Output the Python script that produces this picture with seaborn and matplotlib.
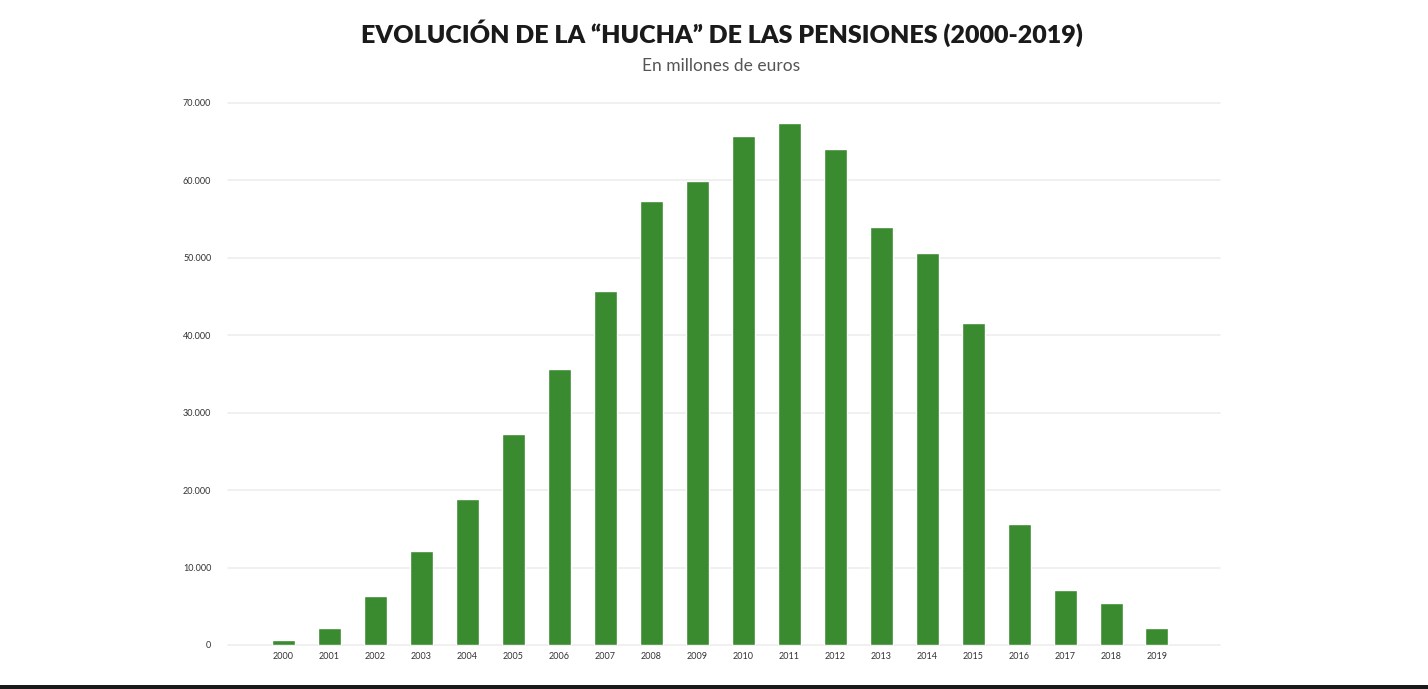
import matplotlib
matplotlib.use("Agg")
import matplotlib.pyplot as plt
import seaborn as sns
import pandas as pd
from matplotlib.patches import Rectangle

years = [str(y) for y in range(2000, 2020)]
values = [650, 2200, 6300, 12150, 18900, 27300, 35650, 45750, 57350, 59950,
          65800, 67450, 64100, 54000, 50650, 41550, 15600, 7100, 5450, 2200]
yticks = [0, 10000, 20000, 30000, 40000, 50000, 60000, 70000]
ytick_labels = ["0", "10.000", "20.000", "30.000", "40.000", "50.000", "60.000", "70.000"]

title = "EVOLUCIÓN DE LA “HUCHA” DE LAS PENSIONES (2000-2019)"
subtitle = "En millones de euros"

sns.set_theme(style="white")
plt.rcParams['font.family'] = ['Lato', 'DejaVu Sans']

df = pd.DataFrame({"year": years, "value": values})

fig = plt.figure(figsize=(14.28, 6.89), dpi=100)
ax = fig.add_axes([228/1428, 1-645/689, (1220-228)/1428, (645-103)/689])

sns.barplot(data=df, x="year", y="value", color="#3a8a2f", saturation=1,
            width=0.5, ax=ax, zorder=3)

ax.set_ylim(0, 70000)
ax.set_xlim(-1.2, 20.37)
ax.set_yticks(yticks)
ax.set_yticklabels(ytick_labels)
ax.yaxis.grid(True, color="#ededed", linewidth=1.2, zorder=0)
ax.set_axisbelow(True)
for gl in ax.get_ygridlines():
    gl.set_clip_on(False)
for s in ax.spines.values():
    s.set_visible(False)
ax.set_xlabel("")
ax.set_ylabel("")
ax.tick_params(axis="y", length=0, pad=12, labelsize=6.5, labelcolor="#333333")
ax.tick_params(axis="x", length=0, pad=5, labelsize=6.5, labelcolor="#333333")

fig.text(722/1428, 1-33/689, title, ha="center", va="center", fontsize=18,
         fontweight="heavy", color="#1a1a1a")
fig.text(721/1428, 1-66/689, subtitle, ha="center", va="center", fontsize=12.5,
         color="#555555")

fig.patches.append(Rectangle((0, 0), 1, 4/689, transform=fig.transFigure,
                             facecolor="#1a1a1a", edgecolor="none", figure=fig))

fig.savefig("out.png", dpi=100, facecolor="white")
